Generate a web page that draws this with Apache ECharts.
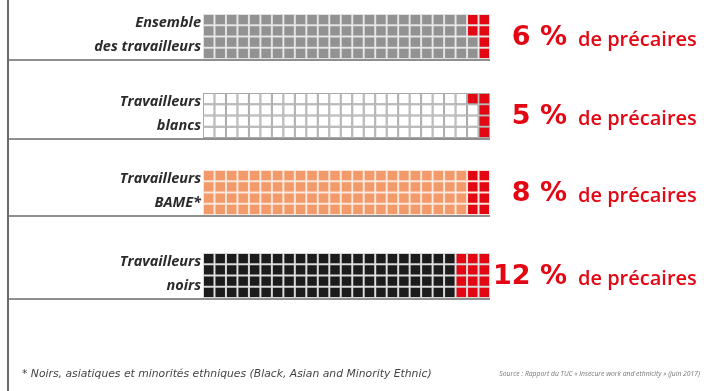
<!DOCTYPE html>
<html><head><meta charset="utf-8">
<script src="https://cdn.jsdelivr.net/npm/echarts@6/dist/echarts.min.js"></script>
<style>html,body{margin:0;padding:0;background:#fff}#c{width:704px;height:391px}</style>
</head><body><div id="c"></div>
<script>
// ---- data ----
const categoryLine1 = ['Ensemble', 'Travailleurs', 'Travailleurs', 'Travailleurs'];
const categoryLine2 = ['des travailleurs', 'blancs', 'BAME*', 'noirs'];
const precarePct = [6, 5, 8, 12];
const pctLabels = ['6 %', '5 %', '8 %', '12 %'];
const suffixLabel = 'de précaires';
const footnote = '* Noirs, asiatiques et minorités ethniques (Black, Asian and Minority Ethnic)';
const sourceText = 'Source : Rapport du TUC « Insecure work and ethnicity » (juin 2017)';

// ---- style ----
const baseFill = ['#929292', '#ffffff', '#f29a6a', '#1c1c1c'];
const gapFill = ['#e0e0e0', '#a9a9a9', '#fbe3d6', '#d6d6d6'];
const red = '#e30613';
const tops = [14, 93, 170, 253];
const gridLeft = 203, gridW = 287, gridH = 45;
const COLS = 25, ROWS = 4;

function cells(pct) {
  const out = [];
  const redSet = new Set();
  for (let k = 0; k < pct; k++) {
    const col = COLS - 1 - Math.floor(k / ROWS);
    const row = k % ROWS;
    redSet.add(col + '_' + row);
  }
  for (let c = 0; c < COLS; c++) for (let r = 0; r < ROWS; r++) {
    out.push([c, r, redSet.has(c + '_' + r) ? 1 : 0]);
  }
  return out;
}

const grids = [], xAxes = [], yAxes = [], series = [], graphic = [];
precarePct.forEach((p, g) => {
  grids.push({left: gridLeft, top: tops[g], width: gridW, height: gridH});
  xAxes.push({type: 'value', gridIndex: g, min: 0, max: COLS, show: false});
  yAxes.push({type: 'value', gridIndex: g, min: 0, max: ROWS, inverse: true, show: false});
  series.push({
    type: 'custom', xAxisIndex: g, yAxisIndex: g, silent: true,
    data: cells(p),
    renderItem: function (params, api) {
      const c = api.value(0), r = api.value(1), isRed = api.value(2);
      const p0 = api.coord([c, r]), p1 = api.coord([c + 1, r + 1]);
      const x = Math.min(p0[0], p1[0]), y = Math.min(p0[1], p1[1]);
      const w = Math.abs(p1[0] - p0[0]), h = Math.abs(p1[1] - p0[1]);
      return {type: 'group', children: [
        {type: 'rect', shape: {x: x, y: y, width: w, height: h}, style: {fill: gapFill[g]}},
        {type: 'rect', shape: {x: x + 1, y: y + 1, width: w - 2, height: h - 2}, style: {fill: isRed ? red : baseFill[g]}}
      ]};
    }
  });
  const top = tops[g];
  graphic.push({type: 'line', shape: {x1: 8, y1: top + gridH + 1, x2: gridLeft + gridW, y2: top + gridH + 1}, style: {stroke: '#8f8f8f', lineWidth: 2}});
  graphic.push({type: 'text', x: 201, y: top + 9, style: {text: categoryLine1[g], align: 'right', verticalAlign: 'middle', fill: '#2b2b2b', font: 'italic bold 14.5px "Open Sans"'}});
  graphic.push({type: 'text', x: 201, y: top + 33, style: {text: categoryLine2[g], align: 'right', verticalAlign: 'middle', fill: '#2b2b2b', font: 'italic bold 14.5px "Open Sans"'}});
  graphic.push({type: 'text', x: 567, y: top + 24, style: {text: pctLabels[g], align: 'right', verticalAlign: 'middle', fill: red, font: 'bold 27px "DejaVu Sans"'}});
  graphic.push({type: 'text', x: 578, y: top + 26, style: {text: suffixLabel, align: 'left', verticalAlign: 'middle', fill: red, font: '600 20px "Open Sans"'}});
});
graphic.push({type: 'line', shape: {x1: 8, y1: 0, x2: 8, y2: 391}, style: {stroke: '#6a6a6a', lineWidth: 2}});
graphic.push({type: 'text', x: 22, y: 374, style: {text: footnote, align: 'left', verticalAlign: 'middle', fill: '#444', font: 'italic 10.8px "DejaVu Sans"'}});
graphic.push({type: 'text', x: 700, y: 374, style: {text: sourceText, align: 'right', verticalAlign: 'middle', fill: '#777', font: 'italic 6.8px "Open Sans"'}});

const chart = echarts.init(document.getElementById('c'), null, {renderer: 'canvas'});
chart.setOption({animation: false, backgroundColor: '#fff', grid: grids, xAxis: xAxes, yAxis: yAxes, series: series, graphic: graphic});
</script></body></html>
